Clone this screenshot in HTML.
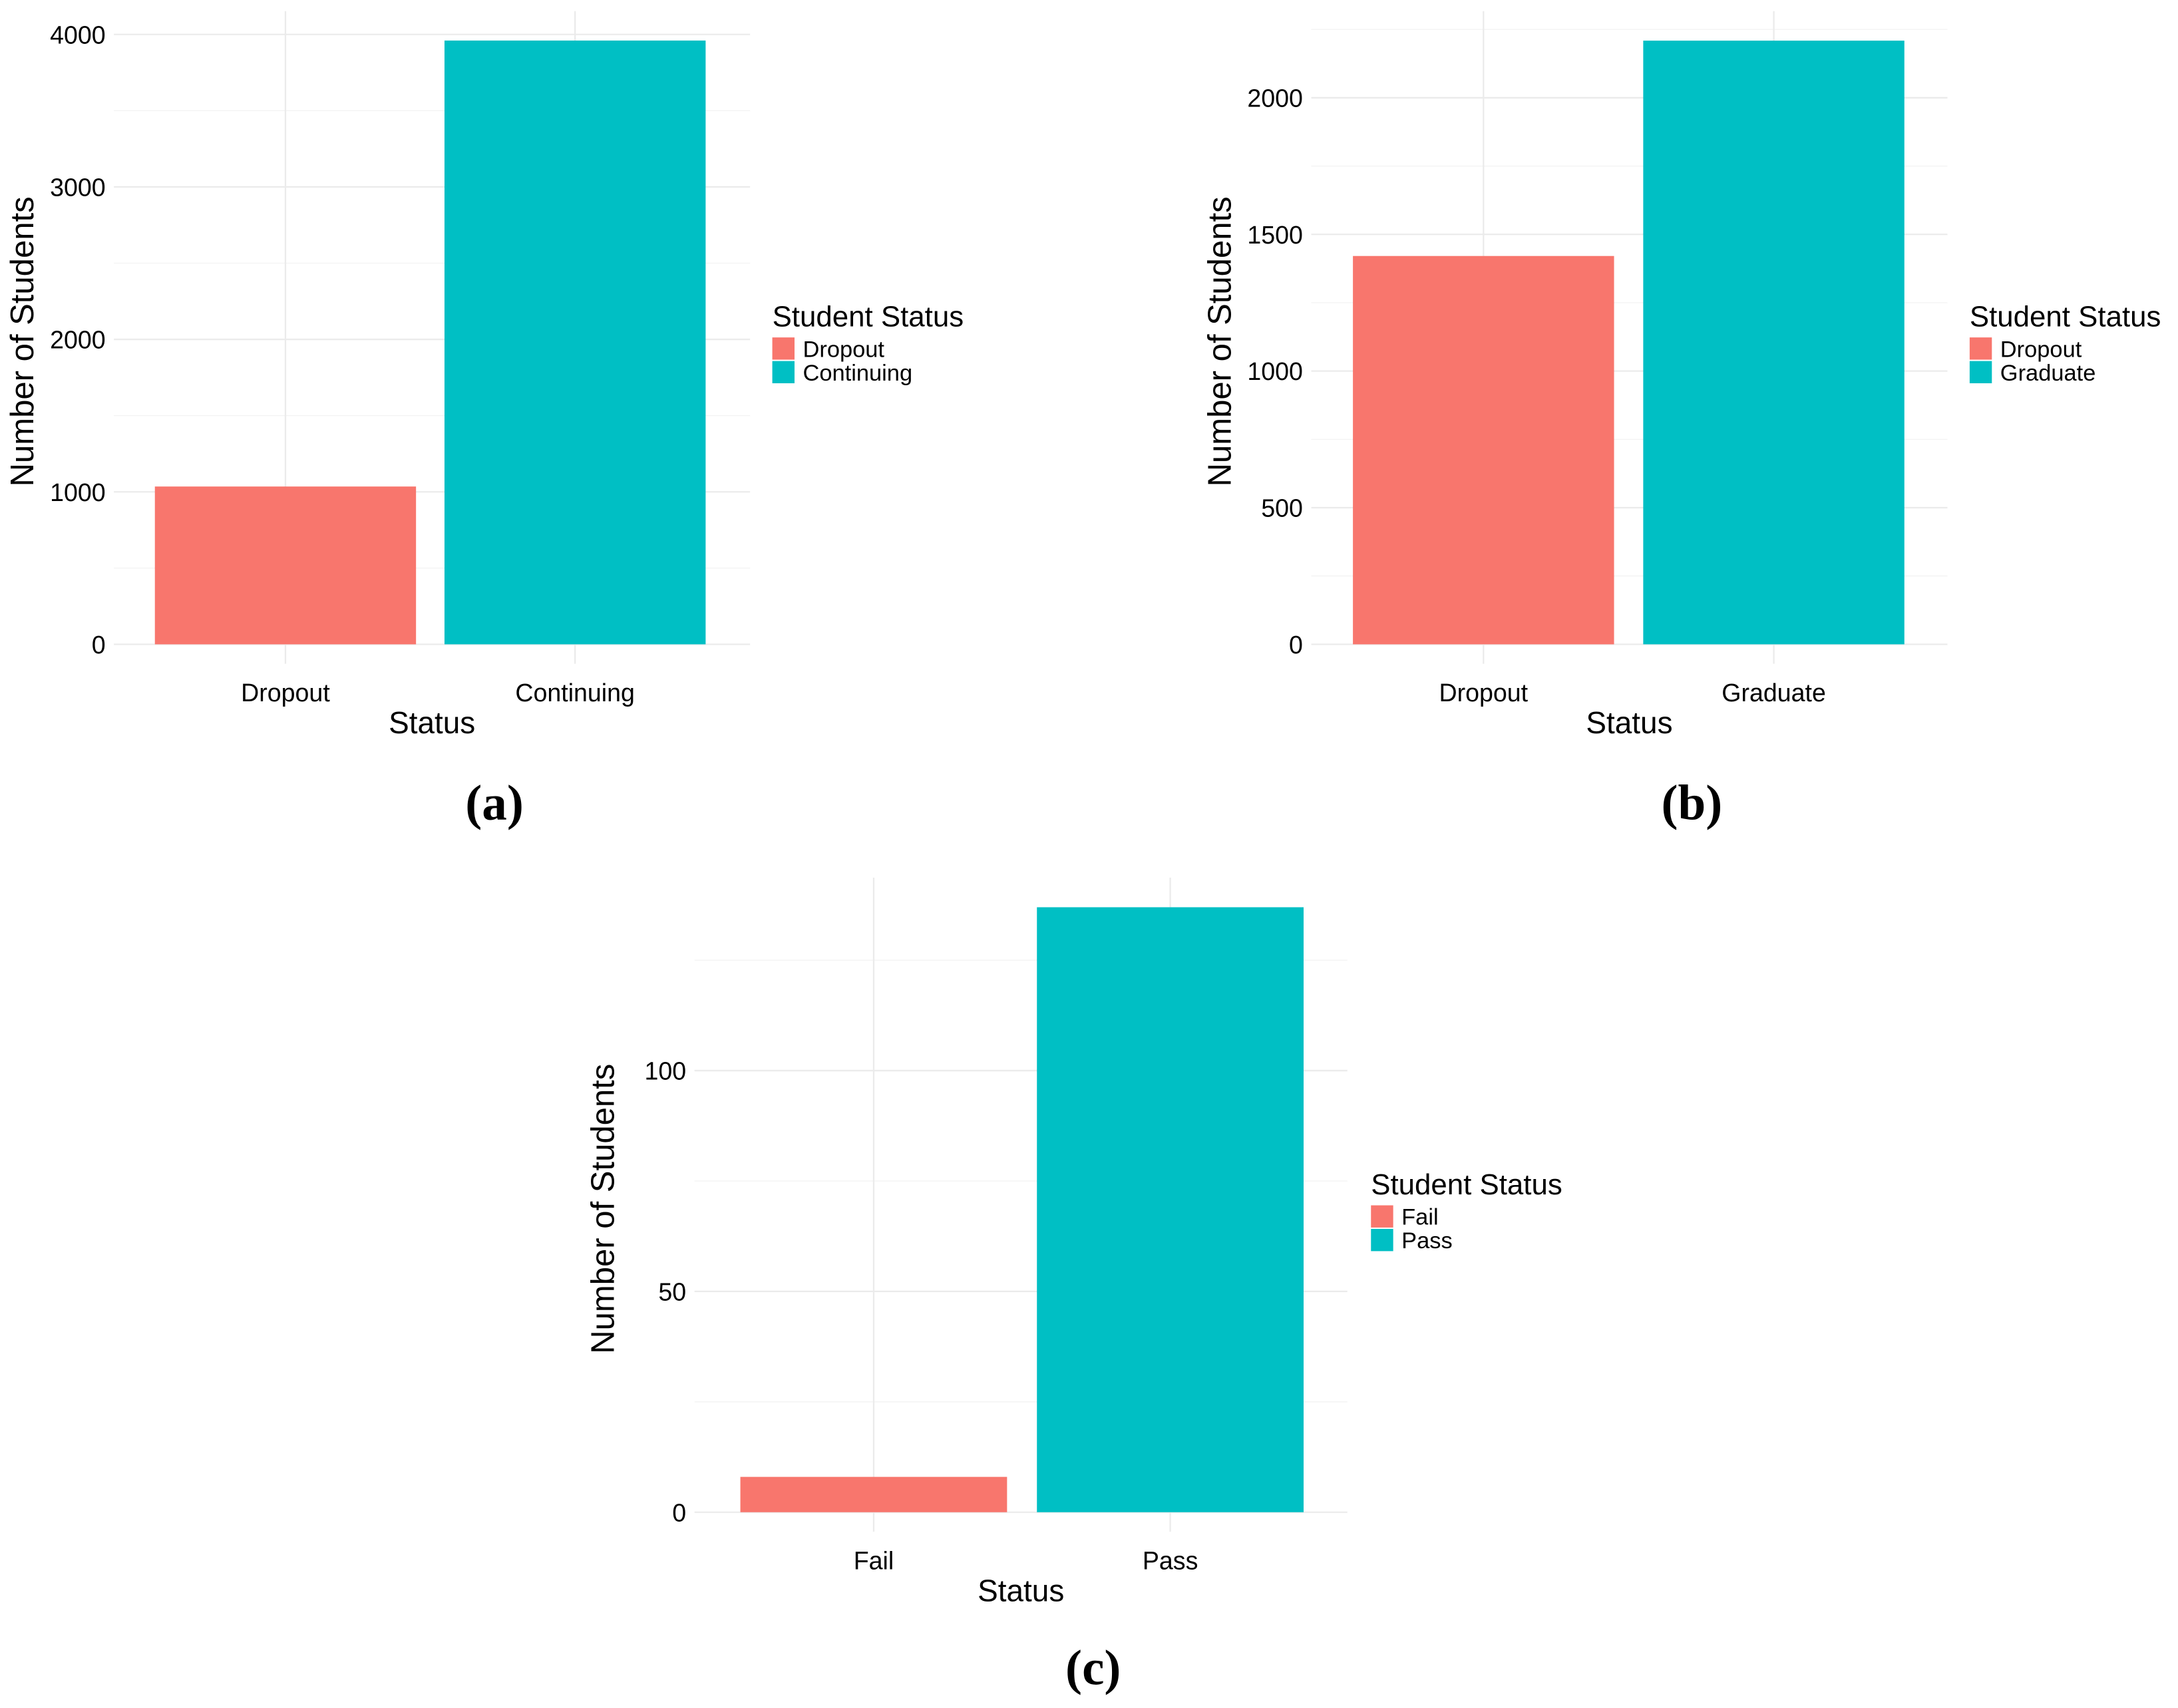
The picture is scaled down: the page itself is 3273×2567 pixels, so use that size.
<!DOCTYPE html>
<html><head><meta charset="utf-8"><style>
html,body{margin:0;padding:0;background:#fff}
svg{display:block}
text{font-family:"Liberation Sans",sans-serif;fill:#000}
.pl{font-family:"Liberation Serif",serif;font-weight:bold}
</style></head><body>
<svg id="chart" width="3273" height="2567" viewBox="0 0 1568 1230" preserveAspectRatio="none" xmlns="http://www.w3.org/2000/svg"></svg>
<script>
const catsA = ["Dropout","Continuing"];
const valsA = [1035, 3960];
const ticksA = [0,1000,2000,3000,4000];
const catsB = ["Dropout","Graduate"];
const valsB = [1421, 2209];
const ticksB = [0,500,1000,1500,2000];
const catsC = ["Fail","Pass"];
const valsC = [8, 137];
const ticksC = [0,50,100];
const colors = ["#F8766D","#00BFC4"];

const svg = document.getElementById('chart');
const NS = "http://www.w3.org/2000/svg";
function mk(tag, attrs, txt){
  const e = document.createElementNS(NS, tag);
  for (const k in attrs) e.setAttribute(k, attrs[k]);
  if (txt !== undefined) e.textContent = txt;
  svg.appendChild(e);
  return e;
}
function panel(id, cats, vals, ticks, x0, x1, yTop, yZero, pxPerUnit, centers, barW, legX, legY, label, labelX, labelY){
  const y = v => yZero - v * pxPerUnit;
  const step = ticks[1] - ticks[0];
  for (let i = 0; i < ticks.length; i++) {
    const mv = ticks[i] + step / 2;
    if (y(mv) > yTop) {
      const g = mk('line', {x1:x0, x2:x1, y1:y(mv), y2:y(mv), stroke:'#f2f2f2', 'stroke-width':0.6});
      
      
    }
  }
  ticks.forEach(t => {
    const g = mk('line', {x1:x0, x2:x1, y1:y(t), y2:y(t), stroke:'#ebebeb', 'stroke-width':1.1});
    
    
    const tl = mk('text', {x:x0 - 6, y:y(t) + 6.5, 'text-anchor':'end', 'font-size':18, fill:'#222'}, String(t));
    
    
  });
  const xAt = i => centers[0] + i * (centers[1] - centers[0]);
  cats.forEach((c, i) => {
    const v = mk('line', {x1:xAt(i), x2:xAt(i), y1:yTop, y2:yZero + 14, stroke:'#ebebeb', 'stroke-width':1.1});
    
    
  });
  cats.forEach((c, i) => {
    const b = mk('rect', {x:xAt(i) - barW / 2, y:y(vals[i]), width:barW, height:vals[i] * pxPerUnit, fill:colors[i]});
    
    
    const tl = mk('text', {x:xAt(i), y:yZero + 41, 'text-anchor':'middle', 'font-size':18, fill:'#222'}, c);
    
    
  });
  const xt = mk('text', {x:(x0 + x1) / 2, y:yZero + 64, 'text-anchor':'middle', 'font-size':22}, 'Status');
  
  
  const cy = (yTop + yZero) / 2 + 10;
  const yx = x0 - 58;
  const yt = mk('text', {x:yx, y:cy, 'text-anchor':'middle', 'font-size':23.5, transform:`rotate(-90 ${yx} ${cy})`}, 'Number of Students');
  
  
  const lt = mk('text', {x:legX, y:legY, 'font-size':21}, 'Student Status');
  
  
  cats.forEach((c, i) => {
    const k = mk('rect', {x:legX, y:legY + 8 + i * 17, width:16, height:16, fill:colors[i]});
    
    
    const l = mk('text', {x:legX + 22, y:legY + 22 + i * 17, 'font-size':16.5}, c);
    
    
  });
  const pl = mk('text', {x:labelX, y:labelY, 'text-anchor':'middle', 'font-size':36, class:'pl'}, label);
  
  
}
panel('panel-a', catsA, valsA, ticksA, 82, 540, 8, 464, 0.1098, [205.5, 414], 188, 556, 235, '(a)', 356, 590);
panel('panel-b', catsB, valsB, ticksB, 944, 1402, 8, 464, 0.1968, [1068, 1277], 188, 1418, 235, '(b)', 1218, 590);
panel('panel-c', catsC, valsC, ticksC, 500, 970, 632, 1089, 3.18, [629, 842.5], 192, 987, 860, '(c)', 787, 1213);
</script>
</body></html>
